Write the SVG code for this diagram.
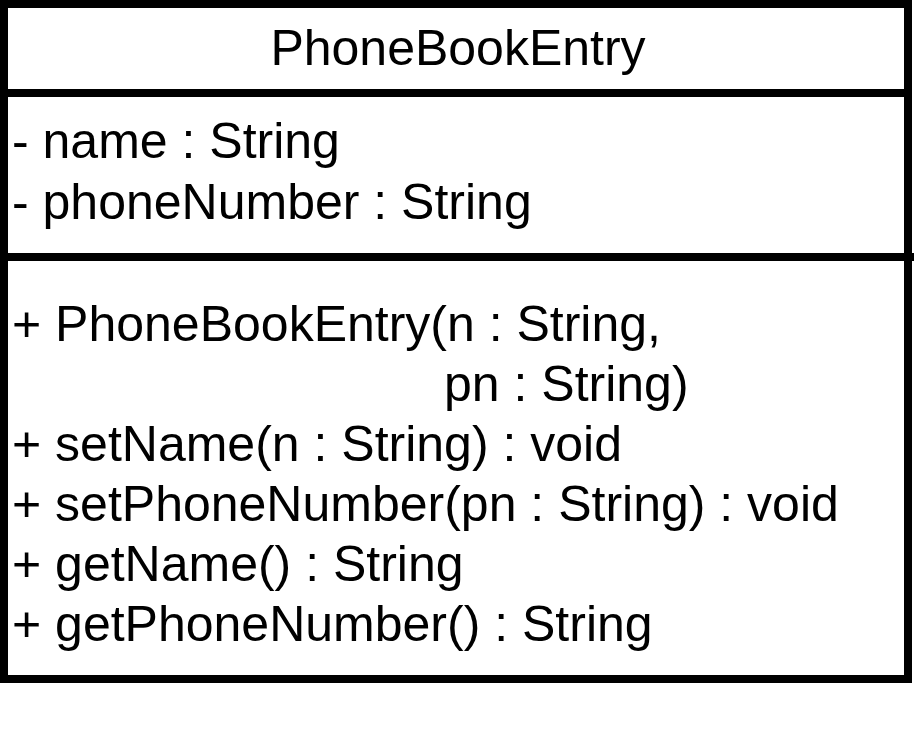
<svg xmlns="http://www.w3.org/2000/svg" width="914" height="756" viewBox="0 0 914 756">
<style>
.t{font-family:"Liberation Sans",Arial,sans-serif;font-size:50px;fill:#000}
.b{fill:none;stroke:#000;stroke-width:8}
</style>
<rect x="0" y="0" width="914" height="756" fill="#fff"/>
<g id="PhoneBookEntry">
<rect class="b" x="4" y="4" width="904" height="675"/>
<line class="b" x1="4" y1="93" x2="908" y2="93"/>
<line class="b" x1="4" y1="257" x2="914" y2="257"/>
<text class="t" x="458" y="65" text-anchor="middle">PhoneBookEntry</text>
<text class="t" x="12" y="158">- name : String</text>
<text class="t" x="12" y="219">- phoneNumber : String</text>
<text class="t" x="12" y="341">+ PhoneBookEntry(n : String,</text>
<text class="t" x="444" y="401">pn : String)</text>
<text class="t" x="12" y="461">+ setName(n : String) : void</text>
<text class="t" x="12" y="521">+ setPhoneNumber(pn : String) : void</text>
<text class="t" x="12" y="581">+ getName() : String</text>
<text class="t" x="12" y="641">+ getPhoneNumber() : String</text>
</g>
<g id="connectors"/>
</svg>
